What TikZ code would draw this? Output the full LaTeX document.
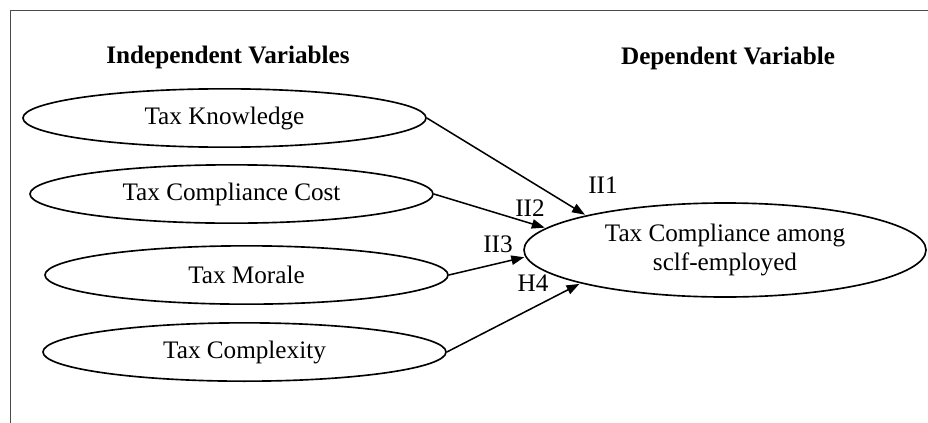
\documentclass[tikz,border=0pt]{standalone}
\usepackage{fontspec}
\setmainfont{Liberation Serif}
\usetikzlibrary{shapes.geometric,positioning,arrows.meta}

\begin{document}
\begin{tikzpicture}[x=0.03cm,y=-0.03cm,on grid,font=\fontsize{21.5}{24}\selectfont,
	var/.style={ellipse,draw,line width=1.4pt,minimum width=12.09cm,minimum height=1.75cm,inner sep=0pt},
	title/.style={font=\fontsize{21.5}{24}\selectfont\bfseries},
	hyp/.style={inner sep=0pt},
	every edge/.style={draw,line width=1.3pt,-{Triangle[length=11pt,width=8pt]},shorten >=1pt}]

		\useasboundingbox (0,0) rectangle (928,423);
		\draw[black!70,line width=0.8pt] (10,423) -- (10,10) -- (928,10);

		\node[title] (indep) at (228,57) {Independent Variables};
		\node[title] (depvar) at (728,58) {Dependent Variable};

		\node[var] (know) at (224.5,118) {Tax Knowledge};
		\node[var] (cost) [below=2.28cm of know, xshift=0.21cm] {Tax Compliance Cost};
		\node[var] (moral) [below=2.43cm of cost, xshift=0.45cm] {Tax Morale};
		\node[var] (compl) [below=2.31cm of moral, xshift=-0.06cm] {Tax Complexity};

		\node[var,minimum width=12.06cm,minimum height=2.82cm,align=center] (comp) at (725,250) {Tax Compliance among\\sclf-employed};

		\node[hyp] (h1) at (603,185) {II1};
		\node[hyp] (h2) at (530,208) {II2};
		\node[hyp] (h3) at (498,244) {II3};
		\node[hyp] (h4) at (533,283) {H4};

		\path
			(know.east)  edge (comp.166)
			(cost.east)  edge (comp.173)
			(moral.east) edge (comp.182)
			(compl.east) edge (comp.193);
\end{tikzpicture}
\end{document}
